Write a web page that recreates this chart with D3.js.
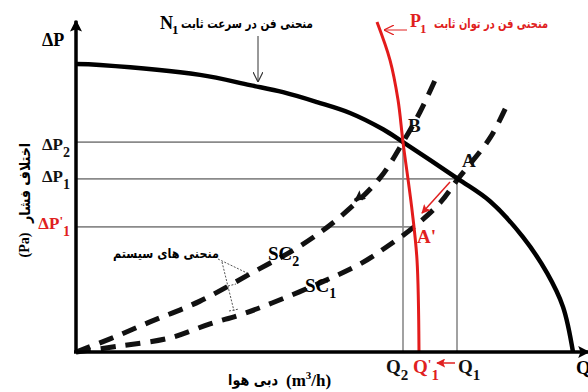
<!DOCTYPE html>
<html>
<head>
<meta charset="utf-8">
<script src="https://cdn.jsdelivr.net/npm/d3@7"></script>
<style>
  body { margin: 0; background: #fff; }
  svg { display: block; }
  .fa { font-family: "DejaVu Sans", sans-serif; font-weight: bold; }
  .lat { font-family: "Liberation Serif", "Times New Roman", serif; font-weight: bold; }
</style>
</head>
<body>
<script>
// fan curve at constant speed N1 (flow Q, pressure dP, arbitrary 0-100 units)
var fanQ  = [0, 4.8, 24.8, 34.8, 41.4, 48.2, 54.8, 61.4, 65.4, 76.4, 82.8, 89.4, 94.2, 97.4, 99.4];
var fanDP = [90, 89.7, 86.6, 83.4, 81.2, 78.1, 74.7, 69.6, 65.6, 54.1, 47.1, 35.9, 24.7, 14.1, 0];

// fan curve at constant power P1
var powerQ  = [60.2, 62.8, 64.4, 65.4, 67.2, 68.2, 68.6];
var powerDP = [103.1, 91.2, 78.8, 65.6, 44.4, 28.8, 0];

// system curves
var sc2Q  = [0, 6.8, 14.8, 24.8, 34.8, 44.8, 52.8, 60.8, 65.4, 68.8, 72.0];
var sc2DP = [0, 4.1, 9.4, 15.9, 24.4, 33.1, 42.2, 54.4, 65.6, 75.0, 85.6];
var sc1Q  = [0, 8.8, 18.8, 26.8, 32.8, 39.2, 48.8, 56.8, 61.8, 67.6, 72.8, 76.4, 82.8, 86.2];
var sc1DP = [0, 1.9, 4.4, 8.8, 11.6, 15.3, 21.6, 27.5, 32.5, 39.1, 46.6, 54.1, 66.9, 77.2];

// operating points B, A, A'
var pointNames = ["B", "A", "A'"];
var pointQ  = [65.4, 76.4, 67.6];
var pointDP = [65.6, 54.1, 39.1];

// tick labels
var yTickLabels = ["ΔP2", "ΔP1", "ΔP'1"];
var yTickValues = [65.6, 54.1, 39.1];
var xTickLabels = ["Q2", "Q'1", "Q1"];
var xTickValues = [65.4, 68.6, 76.2];

var width = 588, height = 392;

var x = d3.scaleLinear().domain([0, 100]).range([76, 576]);
var y = d3.scaleLinear().domain([0, 100]).range([352, 32]);

var svg = d3.select("body").append("svg")
    .attr("width", width)
    .attr("height", height);

var defs = svg.append("defs");
function marker(id, color, open, size) {
    var m = defs.append("marker")
        .attr("id", id)
        .attr("viewBox", "0 0 10 10")
        .attr("refX", open ? 10 : 9).attr("refY", 5)
        .attr("markerWidth", size).attr("markerHeight", size)
        .attr("markerUnits", "userSpaceOnUse")
        .attr("orient", "auto");
    if (open) m.append("path").attr("d", "M0,0 L10,5 L0,10").attr("fill", "none").attr("stroke", color).attr("stroke-width", 1.2);
    else m.append("path").attr("d", "M0,0 L10,5 L0,10 L2,5 z").attr("fill", color);
}
marker("axArrow", "#000", false, 12);
marker("openBlack", "#333", true, 10);
marker("openRed", "#e02020", true, 10);
marker("redArrow", "#e02020", false, 9);
marker("blkArrow", "#111", false, 11);

function zip(a, b) { return a.map(function(d, i) { return [d, b[i]]; }); }

var line = d3.line()
    .x(function(d) { return x(d[0]); })
    .y(function(d) { return y(d[1]); })
    .curve(d3.curveCatmullRom.alpha(0.5));

// grey reference lines
var grey = svg.append("g").attr("stroke", "#8a8a8a").attr("stroke-width", 1.6);
yTickValues.forEach(function(v, i) {
    grey.append("line").attr("x1", x(0)).attr("x2", x(pointQ[i])).attr("y1", y(v)).attr("y2", y(v));
});
grey.append("line").attr("x1", x(xTickValues[0])).attr("x2", x(xTickValues[0])).attr("y1", y(pointDP[0])).attr("y2", y(0));
grey.append("line").attr("x1", x(xTickValues[2])).attr("x2", x(xTickValues[2])).attr("y1", y(pointDP[1])).attr("y2", y(0));

// system curves (dashed)
svg.selectAll(".sc")
    .data([zip(sc2Q, sc2DP), zip(sc1Q, sc1DP)])
    .enter().append("path")
    .attr("class", "sc")
    .attr("d", line)
    .attr("fill", "none")
    .attr("stroke", "#111")
    .attr("stroke-width", 5)
    .attr("stroke-dasharray", "15,10");

// fan curve
svg.append("path")
    .attr("d", line(zip(fanQ, fanDP)))
    .attr("fill", "none")
    .attr("stroke", "#000")
    .attr("stroke-width", 4.5);

// constant power curve
svg.append("path")
    .attr("d", line(zip(powerQ, powerDP)))
    .attr("fill", "none")
    .attr("stroke", "#e31b1b")
    .attr("stroke-width", 3);

// axes
svg.append("line")
    .attr("x1", x(0)).attr("y1", y(0)).attr("x2", x(0)).attr("y2", y(103.5))
    .attr("stroke", "#000").attr("stroke-width", 3.5).attr("marker-end", "url(#axArrow)");
svg.append("line")
    .attr("x1", x(0) - 2).attr("y1", y(0)).attr("x2", 589).attr("y2", y(0))
    .attr("stroke", "#000").attr("stroke-width", 3.5).attr("marker-end", "url(#axArrow)");

// small arrowhead on SC2 and red arrow A -> A'
svg.append("line")
    .attr("x1", x(56.8)).attr("y1", y(48.5)).attr("x2", x(55.8)).attr("y2", y(47.3))
    .attr("stroke", "#111").attr("stroke-width", 4).attr("marker-end", "url(#blkArrow)");
svg.append("line")
    .attr("x1", x(74.8)).attr("y1", y(53.1)).attr("x2", x(69.2)).attr("y2", y(43.4))
    .attr("stroke", "#e02020").attr("stroke-width", 1.5).attr("marker-end", "url(#redArrow)");

// y tick labels
var yl = svg.selectAll(".ylab")
    .data(yTickLabels)
    .enter().append("text")
    .attr("class", "lat")
    .attr("text-anchor", "end")
    .attr("x", 70)
    .attr("y", function(d, i) { return y(yTickValues[i]) + [8, 3, 2][i]; })
    .attr("font-size", 17)
    .attr("font-weight", "normal")
    .attr("fill", function(d, i) { return i == 2 ? "#e02020" : "#111"; });
yl.append("tspan").text(function(d) { return d.replace("'", "").slice(0, 2); });
yl.append("tspan").text(function(d) { return d.indexOf("'") >= 0 ? "'" : ""; }).attr("dy", -4).attr("font-size", 13);
yl.append("tspan").text(function(d) { return d.slice(-1); }).attr("dy", function(d) { return d.indexOf("'") >= 0 ? 11 : 7; }).attr("font-size", 14);

// x tick labels
var xl = svg.selectAll(".xlab")
    .data(xTickLabels)
    .enter().append("text")
    .attr("class", "lat")
    .attr("x", function(d, i) { return x(xTickValues[i]) + [-17, -6, 1][i]; })
    .attr("y", 373)
    .attr("font-size", 19)
    .attr("font-weight", "normal")
    .attr("fill", function(d, i) { return i == 1 ? "#e02020" : "#111"; });
xl.append("tspan").text("Q");
xl.append("tspan").text(function(d) { return d.indexOf("'") >= 0 ? "'" : ""; }).attr("dy", -5).attr("font-size", 13);
xl.append("tspan").text(function(d) { return d.slice(-1); }).attr("dy", function(d) { return d.indexOf("'") >= 0 ? 12 : 7; }).attr("font-size", 15);
svg.append("line")
    .attr("x1", x(xTickValues[2]) - 2).attr("x2", x(xTickValues[1]) + 18)
    .attr("y1", 363).attr("y2", 363)
    .attr("stroke", "#e02020").attr("stroke-width", 1.5).attr("marker-end", "url(#redArrow)");
svg.append("text").attr("class", "lat").attr("x", 576).attr("y", 374).attr("font-size", 19).attr("font-weight", "normal").text("Q");

// axis titles
svg.append("text").attr("class", "lat").attr("x", 42).attr("y", 46).attr("font-size", 18).text("ΔP");
svg.append("text").attr("class", "fa").attr("x", 228).attr("y", 385).attr("font-size", 15)
    .attr("textLength", 50).attr("lengthAdjust", "spacingAndGlyphs").text("دبی هوا");
var mu = svg.append("text").attr("class", "lat").attr("x", 286).attr("y", 386).attr("font-size", 17);
mu.append("tspan").text("(m");
mu.append("tspan").text("3").attr("dy", -7).attr("font-size", 11);
mu.append("tspan").text("/h)").attr("dy", 7);
svg.append("text").attr("class", "fa")
    .attr("transform", "translate(30,223) rotate(-90)")
    .attr("font-size", 15).attr("textLength", 80).attr("lengthAdjust", "spacingAndGlyphs")
    .text("اختلاف فشار");
svg.append("text").attr("class", "lat")
    .attr("transform", "translate(29,245) rotate(-90)")
    .attr("text-anchor", "middle").attr("font-size", 14).attr("font-weight", "normal")
    .text("(Pa)");

// point labels
svg.selectAll(".pt")
    .data(pointNames)
    .enter().append("text")
    .attr("class", "lat")
    .attr("x", function(d, i) { return x(pointQ[i]) + [5, 4, 3][i]; })
    .attr("y", function(d, i) { return y(pointDP[i]) + [-10, -12, 16][i]; })
    .attr("font-size", 19)
    .attr("font-weight", function(d, i) { return i == 1 ? "normal" : "bold"; })
    .attr("fill", function(d, i) { return i == 2 ? "#e02020" : "#111"; })
    .text(function(d) { return d; });

// system curve labels
var s2 = svg.append("text").attr("class", "lat").attr("x", 268).attr("y", 260).attr("font-size", 19).attr("font-weight", "normal");
s2.append("tspan").text("SC");
s2.append("tspan").text("2").attr("dy", 6).attr("font-size", 14);
var s1 = svg.append("text").attr("class", "lat").attr("x", 305).attr("y", 292).attr("font-size", 19).attr("font-weight", "normal");
s1.append("tspan").text("SC");
s1.append("tspan").text("1").attr("dy", 6).attr("font-size", 14);

// "system curves" note with dotted pointers
svg.append("text").attr("class", "fa").attr("x", 113).attr("y", 258).attr("font-size", 13)
    .attr("textLength", 106).attr("lengthAdjust", "spacingAndGlyphs").text("منحنی های سیستم");
var ptr = svg.append("g").attr("stroke", "#555").attr("stroke-width", 1).attr("stroke-dasharray", "2,1.5").attr("fill", "none");
ptr.append("path").attr("d", "M218,259 L247,273");
ptr.append("path").attr("d", "M222,262 L234,311");
ptr.append("path").attr("d", "M228,286 L236,284 M229,311 L239,309");

// top annotations
var n1 = svg.append("text").attr("class", "lat").attr("x", 160).attr("y", 29).attr("font-size", 18);
n1.append("tspan").text("N");
n1.append("tspan").text("1").attr("dy", 5).attr("dx", -1).attr("font-size", 13);
svg.append("text").attr("class", "fa").attr("x", 181).attr("y", 28).attr("font-size", 13)
    .attr("textLength", 132).attr("lengthAdjust", "spacingAndGlyphs").text("منحنی فن در سرعت ثابت");
svg.append("line").attr("x1", 258).attr("y1", 36).attr("x2", 258).attr("y2", 82)
    .attr("stroke", "#333").attr("stroke-width", 1).attr("marker-end", "url(#openBlack)");

var p1 = svg.append("text").attr("class", "lat").attr("x", 410).attr("y", 27).attr("font-size", 18).attr("fill", "#e02020");
p1.append("tspan").text("P");
p1.append("tspan").text("1").attr("dy", 6).attr("dx", -1).attr("font-size", 13);
svg.append("text").attr("class", "fa").attr("x", 434).attr("y", 28).attr("font-size", 13).attr("fill", "#e02020")
    .attr("textLength", 114).attr("lengthAdjust", "spacingAndGlyphs").text("منحنی فن در توان ثابت");
svg.append("line").attr("x1", 407).attr("y1", 30).attr("x2", 384).attr("y2", 30)
    .attr("stroke", "#e02020").attr("stroke-width", 1).attr("marker-end", "url(#openRed)");
</script>
</body>
</html>
